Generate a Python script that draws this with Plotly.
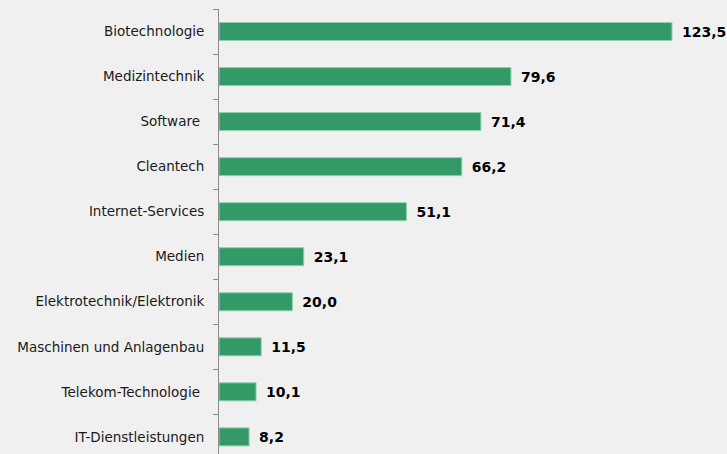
import plotly.graph_objects as go

categories = ["Biotechnologie", "Medizintechnik", "Software\u00a0", "Cleantech",
              "Internet-Services", "Medien", "Elektrotechnik/Elektronik",
              "Maschinen und Anlagenbau", "Telekom-Technologie\u00a0", "IT-Dienstleistungen"]
values = [123.5, 79.6, 71.4, 66.2, 51.1, 23.1, 20.0, 11.5, 10.1, 8.2]
value_labels = ["\u2002" + f"{v:.1f}".replace(".", ",") for v in values]

fig = go.Figure(go.Bar(
    x=values, y=categories, orientation="h",
    marker=dict(color="#339966", line=dict(color="#8fd0ad", width=1)),
    width=0.4,
    text=value_labels, textposition="outside",
    textfont=dict(family="DejaVu Sans", size=14, color="#000000", weight="bold"),
    cliponaxis=False,
))

fig.update_layout(
    width=727, height=454,
    margin=dict(l=219, r=0, t=8.5, b=0),
    paper_bgcolor="#f0f0f0", plot_bgcolor="#f0f0f0",
    showlegend=False,
    font=dict(family="DejaVu Sans", size=13.5, color="#1a1a1a"),
)
fig.update_xaxes(range=[0, 138.5], visible=False, showgrid=False, zeroline=False)
fig.update_yaxes(
    type="category", categoryorder="array", categoryarray=categories,
    range=[9.38, -0.5], showline=True, linecolor="#8c8c8c", linewidth=1,
    ticks="outside", tickson="boundaries", ticklen=5, tickcolor="#8c8c8c",
    ticklabelstandoff=11, showgrid=False, zeroline=False,
)

fig.write_html("out.html", config={"displayModeBar": False},
               post_script="document.body.style.margin='0';document.body.style.background='#f0f0f0';")
